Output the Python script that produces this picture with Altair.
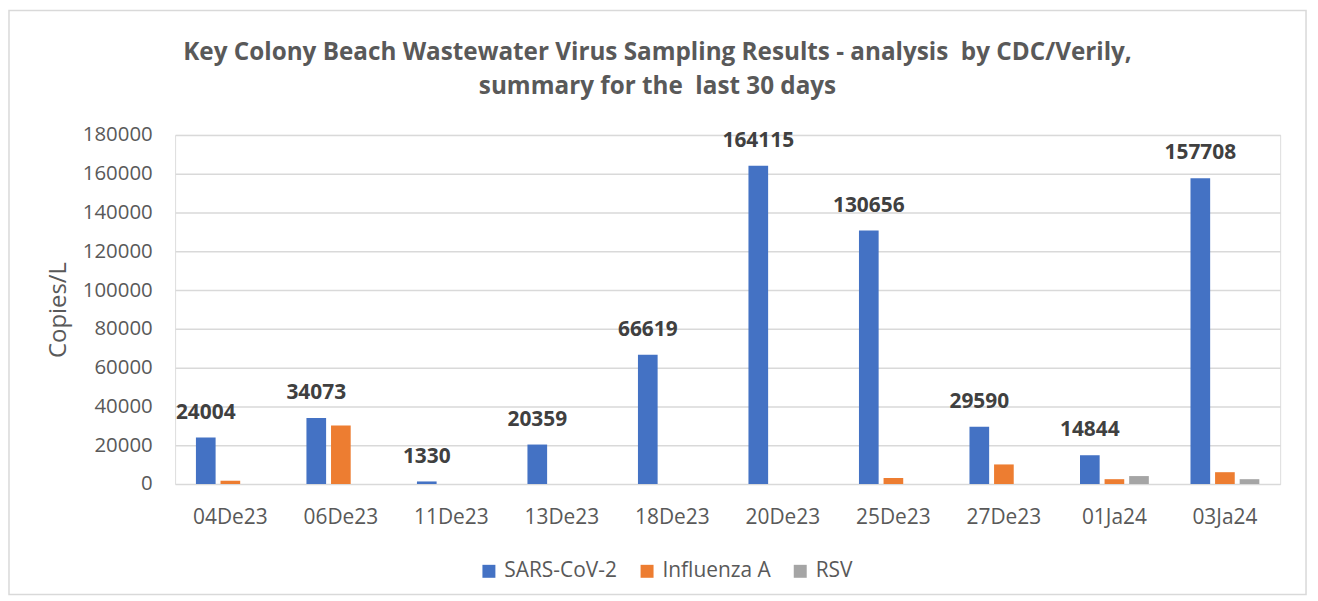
import altair as alt
import pandas as pd

dates = ["04De23", "06De23", "11De23", "13De23", "18De23", "20De23", "25De23", "27De23", "01Ja24", "03Ja24"]
series = ["SARS-CoV-2", "Influenza A", "RSV"]
sars = [24004, 34073, 1330, 20359, 66619, 164115, 130656, 29590, 14844, 157708]
flu = [1700, 30200, 0, 0, 0, 0, 3100, 10100, 2500, 6100]
rsv = [0, 0, 0, 0, 0, 0, 0, 0, 4100, 2500]
colors = ["#4472C4", "#ED7D31", "#A5A5A5"]
title_lines = ["Key Colony Beach Wastewater Virus Sampling Results - analysis\u00a0 by CDC/Verily,",
               "summary for the\u00a0 last 30 days"]

rows = []
for i, d in enumerate(dates):
    for s, vals in zip(series, [sars, flu, rsv]):
        rows.append({"date": d, "series": s, "value": vals[i]})
df = pd.DataFrame(rows)

W, H = 1111, 351
FONT = "Open Sans"
GRAY = "#595959"

x_enc = alt.X("date:N", sort=dates,
              scale=alt.Scale(paddingInner=0.377, paddingOuter=0.1885),
              axis=alt.Axis(title=None, labelFont=FONT, labelFontSize=21, labelColor=GRAY,
                            labelPadding=23, ticks=False, domain=False, labelAngle=0, grid=False))
xo_enc = alt.XOffset("series:N", sort=series, scale=alt.Scale(paddingInner=0.2, paddingOuter=0))
y_enc = alt.Y("value:Q", scale=alt.Scale(domain=[0, 180000], nice=False),
              axis=alt.Axis(title="Copies/L", titleFont=FONT, titleFontSize=24, titleColor=GRAY,
                            titleFontWeight="normal", titlePadding=12,
                            labelFont=FONT, labelFontSize=20.5, labelColor=GRAY, labelPadding=23,
                            format="d",
                            values=list(range(0, 180001, 20000)), ticks=False, domain=False,
                            gridColor="#d9d9d9", gridWidth=1.5))

bars = alt.Chart(df).mark_bar().encode(
    x=x_enc, xOffset=xo_enc, y=y_enc,
    color=alt.Color("series:N", sort=series,
                    scale=alt.Scale(domain=series, range=colors),
                    legend=alt.Legend(orient="none", legendX=305, legendY=428, direction="horizontal",
                                      title=None, symbolType="square", symbolSize=170,
                                      symbolStrokeWidth=0, labelFont=FONT, labelFontSize=21,
                                      labelColor=GRAY, columnPadding=19, labelOffset=5)),
)

labels = alt.Chart(df).transform_filter(alt.datum.series == "SARS-CoV-2").mark_text(
    font=FONT, fontSize=21, fontWeight="bold", color="#404040", baseline="bottom", dy=-15
).encode(x=x_enc, xOffset=xo_enc, y=y_enc, text=alt.Text("value:Q", format="d"))

frame = alt.Chart(pd.DataFrame({"a": [0]})).mark_rect(
    fill="transparent", stroke="#d9d9d9", strokeWidth=1.5
).encode(x=alt.value(-167), x2=alt.value(1137), y=alt.value(-125), y2=alt.value(462))

title = alt.Chart(pd.DataFrame({"a": [0]})).mark_text(
    text=title_lines, font=FONT, fontSize=24.4, fontWeight="bold", color=GRAY,
    align="center", baseline="top", lineHeight=34
).encode(x=alt.value(485), y=alt.value(-94))

chart = alt.layer(frame, title, bars, labels).properties(
    width=W, height=H,
    autosize=alt.AutoSizeParams(type="none"),
    padding={"left": 168, "top": 126, "right": 30, "bottom": 113},
).configure_view(stroke=None).configure(background="white")

chart.save("out.html", embed_options={"renderer": "svg", "actions": False})
